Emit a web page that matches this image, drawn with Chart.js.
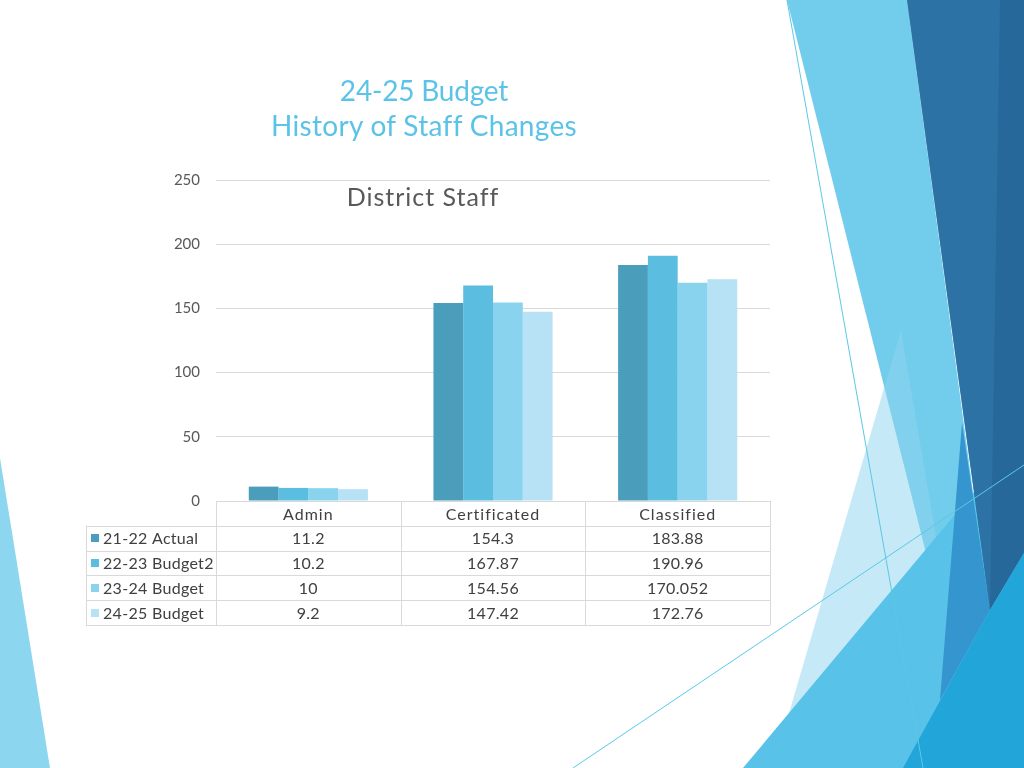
<!DOCTYPE html>
<html>
<head>
<meta charset="utf-8">
<script src="https://cdn.jsdelivr.net/npm/chart.js@4"></script>
<style>
  html, body { margin: 0; padding: 0; background: #fff; }
  #slide { position: relative; width: 1024px; height: 768px; overflow: hidden; }
  #deco, #chart { position: absolute; left: 0; top: 0; }
  .title {
    position: absolute; left: 174px; width: 500px; text-align: center;
    font-family: Lato, "Open Sans", sans-serif; color: #5BC3E8;
    font-size: 28px; line-height: 35px; letter-spacing: 0.3px;
  }
  .subtitle {
    position: absolute; left: 273px; width: 300px; text-align: center;
    font-family: Lato, "Open Sans", sans-serif; color: #595959;
    font-size: 25px; letter-spacing: 1px; top: 181px;
  }
</style>
</head>
<body>
<div id="slide">
  <svg id="deco" width="1024" height="768">
    <polygon points="0,458 0,768 50,768" fill="#8DD6F0"/>
    <polygon points="787,0 907,0 1010,768 980,768" fill="#72CCEC"/>
    <polygon points="901,330 940,560 773,768" fill="#8DD3F0" opacity="0.5"/>
    <polygon points="743,768 1024,432 1024,768" fill="#58C2E8"/>
    <polygon points="962,423 990,610 940,700" fill="#3595CE"/>
    <polygon points="907,0 1024,0 1024,553 990,610" fill="#27689B"/>
    <polygon points="907,0 1000,0 990,610" fill="#3079AA" opacity="0.6"/>
    <polygon points="1024,553 1024,768 903,768 990,610" fill="#22A5D9"/>
    <line x1="573" y1="768" x2="1024" y2="465" stroke="#5BC8E6" stroke-width="1"/>
    <line x1="787" y1="0" x2="923" y2="768" stroke="#5BC8E6" stroke-width="1"/>
  </svg>
  <canvas id="chart" width="1024" height="768"></canvas>
  <div class="title" style="top:73px; letter-spacing:-0.2px">24-25 Budget</div>
  <div class="title" style="top:108px">History of Staff Changes</div>
  <div class="subtitle">District Staff</div>
</div>
<script>
const categories = ['Admin', 'Certificated', 'Classified'];
const seriesNames = ['21-22 Actual', '22-23 Budget2', '23-24 Budget', '24-25 Budget'];
const actual2122 = [11.2, 154.3, 183.88];
const budget2223 = [10.2, 167.87, 190.96];
const budget2324 = [10, 154.56, 170.052];
const budget2425 = [9.2, 147.42, 172.76];
const yTicks = [0, 50, 100, 150, 200, 250];
const seriesColors = ['#4A9EBC', '#5BBDE0', '#8AD3EE', '#B7E1F4'];

const seriesValues = [actual2122, budget2223, budget2324, budget2425];
const gridColor = '#D9D9D9';
const textColor = '#404040';
const fontFamily = 'Lato, "Open Sans", sans-serif';

// data table under the plot, drawn on the category scale
const dataTable = {
    id: 'dataTable',
    afterDraw(chart) {
        const ctx = chart.ctx;
        const area = chart.chartArea;
        const colW = area.width / categories.length;
        const rowH = 24.8;
        const top = area.bottom;
        const legendLeft = 86;
        const nRows = seriesNames.length + 1;
        const px = v => Math.round(v) + 0.5;

        ctx.save();
        ctx.strokeStyle = gridColor;
        ctx.lineWidth = 1;
        ctx.beginPath();
        ctx.moveTo(area.left, px(top));
        ctx.lineTo(area.right, px(top));
        for (let r = 1; r <= nRows; r++) {
            const y = px(top + r * rowH);
            ctx.moveTo(legendLeft, y);
            ctx.lineTo(area.right, y);
        }
        for (let c = 0; c <= categories.length; c++) {
            const x = px(area.left + c * colW);
            ctx.moveTo(x, top);
            ctx.lineTo(x, top + nRows * rowH);
        }
        ctx.moveTo(px(legendLeft), top + rowH);
        ctx.lineTo(px(legendLeft), top + nRows * rowH);
        ctx.stroke();

        ctx.font = '16px ' + fontFamily;
        ctx.fillStyle = textColor;
        ctx.textBaseline = 'middle';
        ctx.textAlign = 'center';
        ctx.letterSpacing = '1px';
        categories.forEach((cat, c) => {
            ctx.fillText(cat, chart.scales.x.getPixelForValue(c), top + rowH / 2 + 1);
        });
        ctx.letterSpacing = '0.3px';
        seriesNames.forEach((name, s) => {
            const cy = top + (s + 1.5) * rowH + 1;
            ctx.fillStyle = seriesColors[s];
            ctx.fillRect(91, Math.round(cy - 5), 8, 8);
            ctx.fillStyle = textColor;
            ctx.textAlign = 'left';
            ctx.fillText(name, 103, cy);
            ctx.textAlign = 'center';
            seriesValues[s].forEach((v, c) => {
                ctx.fillText(String(v), chart.scales.x.getPixelForValue(c), cy);
            });
        });
        ctx.restore();
    }
};

new Chart(document.getElementById('chart'), {
    type: 'bar',
    data: {
        labels: categories,
        datasets: seriesNames.map((name, i) => ({
            label: name,
            data: seriesValues[i],
            backgroundColor: seriesColors[i],
            borderWidth: 0,
            categoryPercentage: 0.645,
            barPercentage: 1.0
        }))
    },
    options: {
        responsive: false,
        devicePixelRatio: 1,
        animation: false,
        layout: { padding: { left: 86, top: 180, right: 254, bottom: 267 } },
        plugins: {
            legend: { display: false },
            title: { display: false },
            tooltip: { enabled: true }
        },
        scales: {
            x: { display: false },
            y: {
                min: 0,
                max: 250,
                afterBuildTicks: scale => { scale.ticks = yTicks.map(v => ({ value: v })); },
                afterFit: scale => { scale.width = 130; },
                grid: { color: gridColor, drawTicks: false },
                border: { display: false },
                ticks: {
                    color: '#595959',
                    padding: 16,
                    font: { family: fontFamily, size: 15 }
                }
            }
        }
    },
    plugins: [dataTable]
});
</script>
</body>
</html>
